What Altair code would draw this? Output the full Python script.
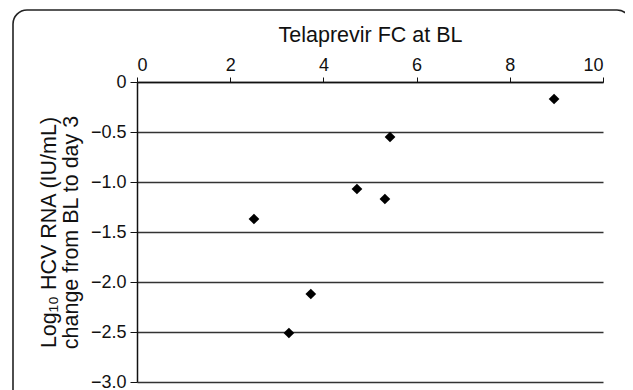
import altair as alt
import pandas as pd

fc_at_bl = [8.95, 5.43, 4.72, 5.32, 2.51, 3.73, 3.26]
rna_change = [-0.17, -0.55, -1.07, -1.17, -1.37, -2.12, -2.51]
x_ticks = [0, 2, 4, 6, 8, 10]
y_ticks = [0, -0.5, -1.0, -1.5, -2.0, -2.5, -3.0]

df = pd.DataFrame({"fc": fc_at_bl, "chg": rna_change})

FONT = "Liberation Sans"

x = alt.X("fc:Q", scale=alt.Scale(domain=[0, 10], nice=False, zero=False),
          axis=alt.Axis(orient="top", values=x_ticks, grid=False, title="Telaprevir FC at BL",
                        tickSize=5, labelPadding=3, titlePadding=10, domainColor="#111",
                        tickColor="#111", domainWidth=1.5, labelFontSize=18, titleFontSize=21.5,
                        titleFontWeight="normal", labelColor="#111", titleColor="#111",
                        labelFont=FONT, titleFont=FONT))
y = alt.Y("chg:Q", scale=alt.Scale(domain=[-3, 0], nice=False, zero=False),
          axis=alt.Axis(values=y_ticks, grid=True, gridColor="#333", gridWidth=1.3,
                        title=["Log\u2081\u2080 HCV RNA (IU/mL)", "change from BL to day 3"],
                        labelExpr="datum.value == 0 ? '0' : replace(format(datum.value, '.1f'), '-', '\u2212')",
                        tickSize=7, labelPadding=4, titlePadding=8, domainColor="#111",
                        tickColor="#111", domainWidth=1.5, labelFontSize=18, titleFontSize=21.5,
                        titleFontWeight="normal", labelColor="#111", titleColor="#111",
                        labelFont=FONT, titleFont=FONT, titleLineHeight=22))

points = alt.Chart(df).mark_point(shape="diamond", filled=True, size=115, color="black", opacity=1).encode(x=x, y=y)

frame = alt.Chart(pd.DataFrame({"a": [0]})).mark_rect(
    fill=None, stroke="#222", strokeWidth=1.6, cornerRadius=14, clip=False
).encode(x=alt.value(-124), x2=alt.value(494), y=alt.value(-72), y2=alt.value(330))

chart = alt.layer(frame, points).properties(
    width=466, height=300,
    autosize=alt.AutoSizeParams(type="none"),
    padding={"left": 129, "top": 74, "right": 22, "bottom": 8},
).configure_view(stroke=None)

chart.save("out.html", embed_options={"renderer": "svg", "actions": False})
